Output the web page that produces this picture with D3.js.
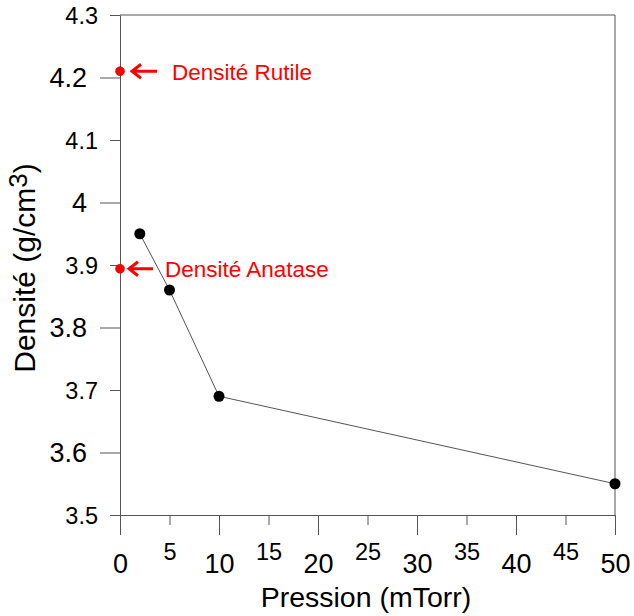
<!DOCTYPE html>
<html>
<head>
<meta charset="utf-8">
<script src="https://cdn.jsdelivr.net/npm/d3@7"></script>
<style>
  body { margin: 0; background: #fff; }
  svg text { font-family: Arial, "Liberation Sans", sans-serif; }
</style>
</head>
<body>
<div id="chart"></div>
<script>
// data
const pressure = [2, 5, 10, 50];
const density = [3.95, 3.86, 3.69, 3.55];

const refNames = ['Densité Rutile', 'Densité Anatase'];
const refPressure = [0, 0];
const refDensity = [4.21, 3.894];

const xTicks = [0, 5, 10, 15, 20, 25, 30, 35, 40, 45, 50];
const yTicks = [3.5, 3.6, 3.7, 3.8, 3.9, 4.0, 4.1, 4.2, 4.3];
const yTickLabels = ['3.5', '3.6', '3.7', '3.8', '3.9', '4', '4.1', '4.2', '4.3'];

const W = 634, H = 616;
const axisColor = '#555';

const x = d3.scaleLinear().domain([0, 50]).range([120, 615]);
const y = d3.scaleLinear().domain([3.5, 4.3]).range([515, 15]);

const svg = d3.select('#chart').append('svg')
    .attr('width', W)
    .attr('height', H);

// frame top + right
svg.append('path')
    .attr('d', `M${x(0)},${y(4.3)}H${x(50)}V${y(3.5)}`)
    .attr('fill', 'none')
    .attr('stroke', axisColor)
    .attr('stroke-width', 1);

// x axis, long/short ticks alternate
const gx = svg.append('g')
    .attr('transform', `translate(0,${y(3.5)})`)
    .call(d3.axisBottom(x).tickValues(xTicks).tickSizeOuter(0).tickFormat(d3.format('d')));

gx.select('.domain').attr('stroke', axisColor);
gx.selectAll('.tick line')
    .attr('stroke', axisColor)
    .attr('y2', (d, i) => i % 2 ? 10 : 20);
gx.selectAll('.tick text')
    .attr('fill', '#000')
    .attr('font-size', (d, i) => i % 2 ? 23.5 : 27)
    .attr('dy', null)
    .attr('y', (d, i) => i % 2 ? 37 : 49)
    .attr('dominant-baseline', 'central');

// y axis
const gy = svg.append('g')
    .attr('transform', `translate(${x(0)},0)`)
    .call(d3.axisLeft(y).tickValues(yTicks).tickSizeOuter(0).tickFormat((d, i) => yTickLabels[i]));

gy.select('.domain').attr('stroke', axisColor);
gy.selectAll('.tick line')
    .attr('stroke', axisColor)
    .attr('x2', (d, i) => i % 2 ? -20 : -10);
gy.selectAll('.tick text')
    .attr('fill', '#000')
    .attr('font-size', (d, i) => i % 2 ? 27 : 23.5)
    .attr('dy', null)
    .attr('x', (d, i) => i % 2 ? -33 : -22)
    .attr('dominant-baseline', 'central');

// series line + markers
const pts = pressure.map((p, i) => [p, density[i]]);

svg.append('path')
    .datum(pts)
    .attr('d', d3.line().x(d => x(d[0])).y(d => y(d[1])))
    .attr('fill', 'none')
    .attr('stroke', '#555')
    .attr('stroke-width', 1);

svg.selectAll('circle.pt')
    .data(pts)
    .enter()
    .append('circle')
    .attr('class', 'pt')
    .attr('cx', d => x(d[0]))
    .attr('cy', d => y(d[1]))
    .attr('r', 5.5)
    .attr('fill', '#000');

// reference densities (red)
const refs = refNames.map((name, i) => ({name, p: refPressure[i], d: refDensity[i]}));
const arrowOff = [[12, 37, 52], [9, 33, 45]]; // tip, tail, text offsets in px

svg.selectAll('circle.ref')
    .data(refs)
    .enter()
    .append('circle')
    .attr('class', 'ref')
    .attr('cx', d => x(d.p))
    .attr('cy', d => y(d.d))
    .attr('r', 4.5)
    .attr('fill', '#f00')
    .attr('stroke', '#a00')
    .attr('stroke-width', 0.5);

const ann = svg.selectAll('g.ann')
    .data(refs)
    .enter()
    .append('g')
    .attr('class', 'ann')
    .attr('transform', d => `translate(${x(d.p)},${y(d.d)})`);

ann.append('path')
    .attr('d', (d, i) => {
        const [t, e] = arrowOff[i];
        return `M${e},0H${t}M${t + 9},-7L${t},0L${t + 9},7`;
    })
    .attr('fill', 'none')
    .attr('stroke', '#f00')
    .attr('stroke-width', 3);

ann.append('text')
    .attr('x', (d, i) => arrowOff[i][2])
    .attr('y', 1)
    .attr('dominant-baseline', 'central')
    .attr('font-size', 22.5)
    .attr('fill', '#f00')
    .text(d => d.name);

// axis titles
svg.append('text')
    .attr('x', 366)
    .attr('y', 607)
    .attr('text-anchor', 'middle')
    .attr('font-size', 28.5)
    .text('Pression (mTorr)');

const yt = svg.append('text')
    .attr('transform', 'translate(35,268) rotate(-90)')
    .attr('text-anchor', 'middle')
    .attr('font-size', 30);
yt.append('tspan').text('Densité (g/cm');
yt.append('tspan').attr('font-size', 26).attr('dy', -8).text('3');
yt.append('tspan').attr('dy', 8).text(')');
</script>
</body>
</html>
